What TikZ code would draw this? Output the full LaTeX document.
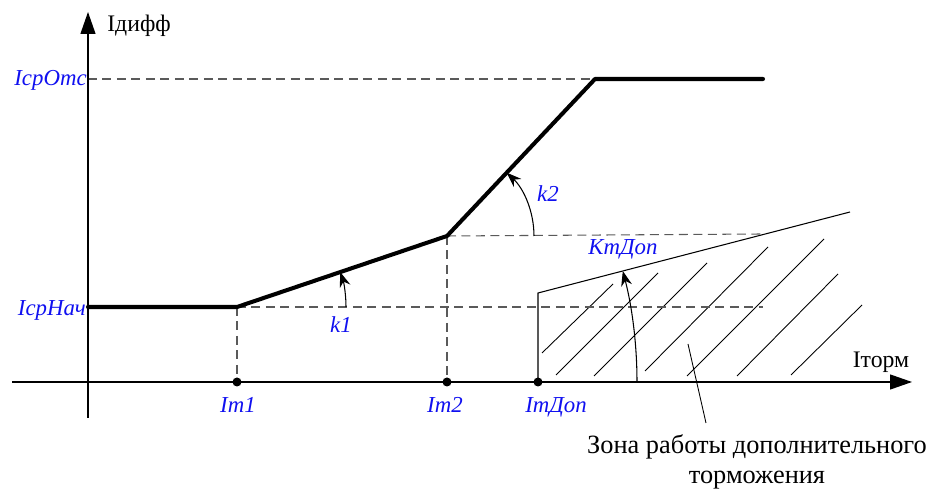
\documentclass[tikz,border=0pt]{standalone}
\usepackage{fontspec}
\setmainfont{Liberation Serif}
\usepackage{tikz}
\usetikzlibrary{arrows.meta}
\definecolor{lblBlue}{HTML}{1010F0}
\definecolor{dashGrey}{HTML}{5A5A5A}

\begin{document}
\begin{tikzpicture}[x=0.02cm,y=0.02cm,font=\fontsize{13.5}{15}\selectfont,
  axis/.style={line width=0.7pt,-{Triangle[length=0.44cm,width=0.3cm]}},
  charline/.style={line width=2.3pt,line join=round,line cap=round},
  guide/.style={dashGrey,line width=0.6pt,dash pattern=on 0.18cm off 0.11cm},
  lbl/.style={lblBlue,inner sep=0pt,font=\fontsize{13}{15}\itshape\selectfont},
  ang/.style={line width=0.6pt,-{Stealth[length=0.3cm,width=0.22cm]}},
  hatch/.style={line width=0.5pt}]
\useasboundingbox (0,0) rectangle (931,490);
% points of the characteristic
\coordinate (p0) at (88,183);
\coordinate (p1) at (237,183);
\coordinate (p2) at (447,254);
\coordinate (p3) at (595,411);
\coordinate (p4) at (763,411);
\coordinate (t1) at (237,108);
\coordinate (t2) at (447,108);
\coordinate (td) at (538,108);
\coordinate (kd0) at (538,197);
\coordinate (kd1) at (850,278);
% hatched zone
\foreach \xa/\ya/\xb/\yb in {542/137/613/206,556/115/658/217,594/114/707/227,
  645/119/768/243,687/114/824/251,737/114/838/216,791/115/862/185}
  \draw[hatch] (\xa,\ya) -- (\xb,\yb);
\draw[line width=0.6pt] (td) -- (kd0) -- (kd1);
% guide lines
\draw[guide] (88,411) -- (p3);
\draw[guide] (p1) -- (763,183);
\draw[guide] (p2) -- (762,256);
\draw[guide] (p1) -- (t1);
\draw[guide] (p2) -- (t2);
% axes
\draw[axis] (12,108) -- (912,108);
\draw[axis] (88,72) -- (88,478);
\node[anchor=base west,inner sep=0pt] (ydiff) at (107,458) {Iдифф};
\node[anchor=base,inner sep=0pt] (xtorm) at (881,122) {Iторм};
% characteristic
\draw[charline] (p0) -- (p1) -- (p2) -- (p3) -- (p4);
\foreach \p in {t1,t2,td} \fill (\p) circle[radius=0.09cm];
% slopes
\draw[ang] (346,183) arc[start angle=0,end angle=18.7,radius=109];
\draw[ang] (534,254) arc[start angle=0,end angle=46.7,radius=87];
\draw[ang] (637,108) arc[start angle=0,end angle=14.55,radius=441.8];
% labels
\node[lbl,anchor=base east] (isrotc) at (87,404) {IсрОтс};
\node[lbl,anchor=base east] (isrnach) at (86,174) {IсрНач};
\node[lbl,anchor=base] (it1) at (238,77) {Iт1};
\node[lbl,anchor=base] (it2) at (445,77) {Iт2};
\node[lbl,anchor=base] (itdop) at (556,77) {IтДоп};
\node[lbl,anchor=base] (k1) at (341,157) {k1};
\node[lbl,anchor=base] (k2) at (548,288) {k2};
\node[lbl,anchor=base] (ktdop) at (623,235) {КтДоп};
% zone of additional restraint
\node[anchor=north,inner sep=0pt,align=center,font=\fontsize{15}{17}\selectfont] (zone) at (757,56)
  {Зона работы дополнительного\\торможения};
\coordinate (zp) at (688,146);
\coordinate (zq) at (706,67);
\draw[line width=0.5pt] (zp) -- (zq);
\end{tikzpicture}
\end{document}
